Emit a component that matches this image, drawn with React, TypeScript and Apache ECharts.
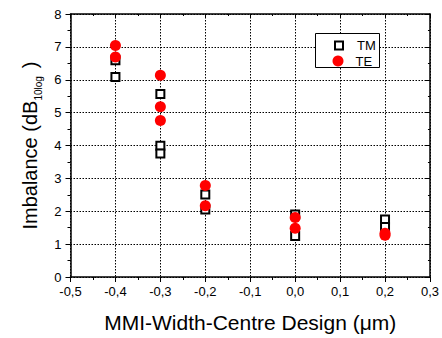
import React, { useEffect, useRef } from "react";
import * as echarts from "echarts";

const tmX = [-0.4, -0.4, -0.3, -0.3, -0.3, -0.2, -0.2, 0.0, 0.0, 0.2, 0.2];
const tmY = [6.59, 6.08, 5.57, 3.99, 3.76, 2.51, 2.05, 1.9, 1.25, 1.75, 1.52];
const teX = [-0.4, -0.4, -0.3, -0.3, -0.3, -0.2, -0.2, 0.0, 0.0, 0.2, 0.2];
const teY = [7.04, 6.69, 6.14, 5.18, 4.76, 2.78, 2.17, 1.81, 1.48, 1.33, 1.27];
const seriesNames = ["TM", "TE"];
const xTitle = "MMI-Width-Centre Design (μm)";
const yTitleMain = "Imbalance (dB";
const yTitleSub = "10log";

const FONT = "'Liberation Sans', Arial, sans-serif";

export default function App() {
  const ref = useRef<HTMLDivElement>(null);
  useEffect(() => {
    if (!ref.current) return;
    const chart = echarts.init(ref.current, null, { renderer: "svg" });
    const pair = (xs: number[], ys: number[]) => xs.map((x, i) => [x, ys[i]]);
    const fmtX = (v: number) => v.toFixed(1).replace(".", ",");
    const axisLine = { show: true, onZero: false, lineStyle: { color: "#000", width: 1.5 } };
    const legendText = { fontFamily: FONT, fontSize: 13, color: "#000" };
    chart.setOption({
      animation: false,
      textStyle: { fontFamily: FONT },
      grid: { left: 70.5, right: 11, top: 14, bottom: 58 },
      graphic: [
        {
          type: "rect",
          left: 315,
          top: 33,
          shape: { width: 64, height: 34 },
          style: { fill: "#fff", stroke: "#000", lineWidth: 1 },
          z: 90,
        },
      ],
      legend: [
        {
          left: 334,
          top: 39,
          padding: 0,
          itemWidth: 8,
          itemHeight: 8,
          z: 100,
          data: [seriesNames[0]],
          textStyle: { ...legendText, padding: [0, 0, 0, 9] },
        },
        {
          left: 332.5,
          top: 54.5,
          padding: 0,
          itemWidth: 11,
          itemHeight: 11,
          z: 100,
          data: [seriesNames[1]],
          textStyle: { ...legendText, padding: [0, 0, 0, 7] },
        },
      ],
      xAxis: [
        {
          type: "value",
          min: -0.5,
          max: 0.3,
          interval: 0.1,
          position: "bottom",
          name: xTitle,
          nameLocation: "middle",
          nameGap: 35,
          nameTextStyle: { fontFamily: FONT, fontSize: 21, color: "#000" },
          axisLine,
          axisTick: { show: true, inside: false, length: 5, lineStyle: { color: "#000" } },
          minorTick: { show: true, splitNumber: 2, length: 3, lineStyle: { color: "#000" } },
          axisLabel: { formatter: fmtX, fontFamily: FONT, fontSize: 13, color: "#000", margin: 8 },
          splitLine: { show: true, lineStyle: { color: "#000", type: [1.5, 1.5], width: 1 } },
        },
        {
          type: "value",
          min: -0.5,
          max: 0.3,
          interval: 0.1,
          position: "top",
          axisLine,
          axisTick: { show: true, inside: true, length: 4, lineStyle: { color: "#000" } },
          minorTick: { show: true, splitNumber: 2, length: 2, lineStyle: { color: "#000" } },
          axisLabel: { show: false },
          splitLine: { show: false },
        },
      ],
      yAxis: [
        {
          type: "value",
          min: 0,
          max: 8,
          interval: 1,
          position: "left",
          name: `{m|${yTitleMain}}{sub|${yTitleSub}}{m|)}`,
          nameLocation: "middle",
          nameGap: 26,
          nameTextStyle: {
            fontFamily: FONT,
            fontSize: 20,
            color: "#000",
            rich: {
              m: { fontFamily: FONT, fontSize: 20, color: "#000", lineHeight: 26, verticalAlign: "middle" },
              sub: {
                fontFamily: FONT,
                fontSize: 10,
                color: "#000",
                lineHeight: 26,
                verticalAlign: "bottom",
                padding: [0, 8, 0, 0],
              },
            },
          },
          axisLine,
          axisTick: { show: true, inside: false, length: 5, lineStyle: { color: "#000" } },
          minorTick: { show: true, splitNumber: 2, length: 3, lineStyle: { color: "#000" } },
          axisLabel: { fontFamily: FONT, fontSize: 13, color: "#000", margin: 9 },
          splitLine: { show: true, lineStyle: { color: "#000", type: [1.5, 1.5], width: 1 } },
        },
        {
          type: "value",
          min: 0,
          max: 8,
          interval: 1,
          position: "right",
          axisLine,
          axisTick: { show: true, inside: true, length: 4, lineStyle: { color: "#000" } },
          minorTick: { show: true, splitNumber: 2, length: 2, lineStyle: { color: "#000" } },
          axisLabel: { show: false },
          splitLine: { show: false },
        },
      ],
      series: [
        {
          name: seriesNames[0],
          type: "scatter",
          xAxisIndex: 0,
          yAxisIndex: 0,
          symbol: "rect",
          symbolSize: 8,
          itemStyle: { color: "#fff", borderColor: "#000", borderWidth: 2, opacity: 1 },
          data: pair(tmX, tmY),
        },
        {
          name: seriesNames[1],
          type: "scatter",
          xAxisIndex: 0,
          yAxisIndex: 0,
          symbol: "circle",
          symbolSize: 11,
          itemStyle: { color: "#ff0000", opacity: 1 },
          data: pair(teX, teY),
        },
      ],
    });
    return () => chart.dispose();
  }, []);
  return <div ref={ref} style={{ position: "absolute", left: 0, top: 0, width: 442, height: 338 }} />;
}
